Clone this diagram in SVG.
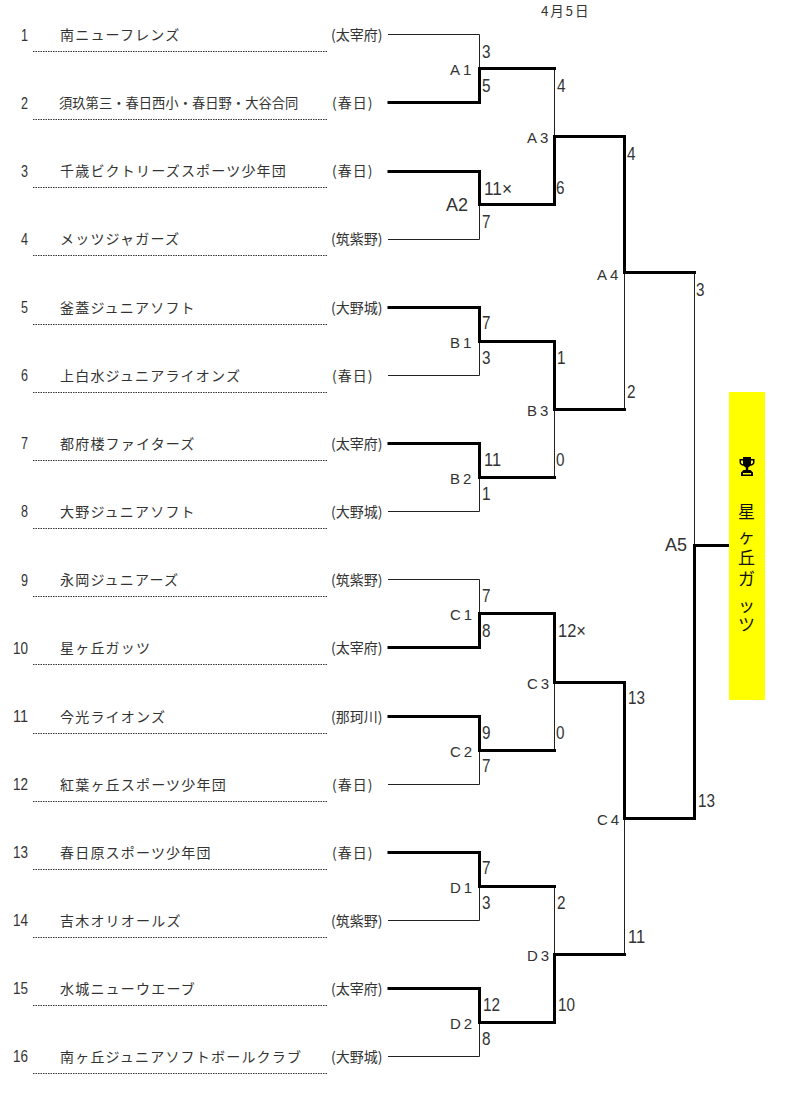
<svg xmlns="http://www.w3.org/2000/svg" width="800" height="1099" viewBox="0 0 800 1099">
<style>
text{font-family:"Noto Sans CJK JP","Liberation Sans",sans-serif;fill:#333}
.n{font-family:"Liberation Sans",sans-serif;font-size:17px;text-anchor:end}
.t{font-size:14px;letter-spacing:1.200px}
.r{font-size:14px}
.c{font-family:"Liberation Sans",sans-serif;font-size:15px;letter-spacing:3px}
.cb{font-family:"Liberation Sans",sans-serif;font-size:18px}
.s{font-family:"Liberation Sans",sans-serif;font-size:19px}
.u{stroke:#333;stroke-width:1;stroke-dasharray:1.5 1;fill:none}
.thin{stroke:#222;stroke-width:1;fill:none}
.thick{stroke:#000;stroke-width:3;fill:none;stroke-linecap:square}
</style>
<g id="date"><text x="541" y="16" font-size="13.500" style="letter-spacing:1.800px">4月5日</text></g>
<g id="team1"><text class="n" x="28" y="41" textLength="7" lengthAdjust="spacingAndGlyphs">1</text><text class="t" x="60" y="40">南ニューフレンズ</text><text class="r" x="331" y="40">(太宰府)</text><line class="u" x1="33" y1="51.500" x2="327" y2="51.500"/></g>
<g id="team2"><text class="n" x="28" y="109" textLength="7" lengthAdjust="spacingAndGlyphs">2</text><text class="t" x="59" y="108" style="font-size:13.300px;letter-spacing:0">須玖第三・春日西小・春日野・大谷合同</text><text class="r" x="332" y="108" style="letter-spacing:1px">(春日)</text><line class="u" x1="33" y1="119.500" x2="327" y2="119.500"/></g>
<g id="team3"><text class="n" x="28" y="177" textLength="7" lengthAdjust="spacingAndGlyphs">3</text><text class="t" x="60" y="176">千歳ビクトリーズスポーツ少年団</text><text class="r" x="332" y="176" style="letter-spacing:1px">(春日)</text><line class="u" x1="33" y1="187.500" x2="327" y2="187.500"/></g>
<g id="team4"><text class="n" x="28" y="245" textLength="7" lengthAdjust="spacingAndGlyphs">4</text><text class="t" x="60" y="244">メッツジャガーズ</text><text class="r" x="331" y="244">(筑紫野)</text><line class="u" x1="33" y1="255.500" x2="327" y2="255.500"/></g>
<g id="team5"><text class="n" x="28" y="313" textLength="7" lengthAdjust="spacingAndGlyphs">5</text><text class="t" x="60" y="313">釜蓋ジュニアソフト</text><text class="r" x="331" y="313">(大野城)</text><line class="u" x1="33" y1="324.500" x2="327" y2="324.500"/></g>
<g id="team6"><text class="n" x="28" y="381" textLength="7" lengthAdjust="spacingAndGlyphs">6</text><text class="t" x="60" y="381">上白水ジュニアライオンズ</text><text class="r" x="332" y="381" style="letter-spacing:1px">(春日)</text><line class="u" x1="33" y1="392.500" x2="327" y2="392.500"/></g>
<g id="team7"><text class="n" x="28" y="449" textLength="7" lengthAdjust="spacingAndGlyphs">7</text><text class="t" x="60" y="449">都府楼ファイターズ</text><text class="r" x="331" y="449">(太宰府)</text><line class="u" x1="33" y1="460.500" x2="327" y2="460.500"/></g>
<g id="team8"><text class="n" x="28" y="517" textLength="7" lengthAdjust="spacingAndGlyphs">8</text><text class="t" x="60" y="517">大野ジュニアソフト</text><text class="r" x="331" y="517">(大野城)</text><line class="u" x1="33" y1="528.500" x2="327" y2="528.500"/></g>
<g id="team9"><text class="n" x="28" y="586" textLength="7" lengthAdjust="spacingAndGlyphs">9</text><text class="t" x="60" y="585">永岡ジュニアーズ</text><text class="r" x="331" y="585">(筑紫野)</text><line class="u" x1="33" y1="596.500" x2="327" y2="596.500"/></g>
<g id="team10"><text class="n" x="28" y="654" textLength="15" lengthAdjust="spacingAndGlyphs">10</text><text class="t" x="60" y="653">星ヶ丘ガッツ</text><text class="r" x="331" y="653">(太宰府)</text><line class="u" x1="33" y1="664.500" x2="327" y2="664.500"/></g>
<g id="team11"><text class="n" x="28" y="722" textLength="15" lengthAdjust="spacingAndGlyphs">11</text><text class="t" x="60" y="722">今光ライオンズ</text><text class="r" x="331" y="722">(那珂川)</text><line class="u" x1="33" y1="733.500" x2="327" y2="733.500"/></g>
<g id="team12"><text class="n" x="28" y="790" textLength="15" lengthAdjust="spacingAndGlyphs">12</text><text class="t" x="60" y="790">紅葉ヶ丘スポーツ少年団</text><text class="r" x="332" y="790" style="letter-spacing:1px">(春日)</text><line class="u" x1="33" y1="801.500" x2="327" y2="801.500"/></g>
<g id="team13"><text class="n" x="28" y="858" textLength="15" lengthAdjust="spacingAndGlyphs">13</text><text class="t" x="60" y="858">春日原スポーツ少年団</text><text class="r" x="332" y="858" style="letter-spacing:1px">(春日)</text><line class="u" x1="33" y1="869.500" x2="327" y2="869.500"/></g>
<g id="team14"><text class="n" x="28" y="926" textLength="15" lengthAdjust="spacingAndGlyphs">14</text><text class="t" x="60" y="926">吉木オリオールズ</text><text class="r" x="331" y="926">(筑紫野)</text><line class="u" x1="33" y1="937.500" x2="327" y2="937.500"/></g>
<g id="team15"><text class="n" x="28" y="994" textLength="15" lengthAdjust="spacingAndGlyphs">15</text><text class="t" x="60" y="994">水城ニューウエーブ</text><text class="r" x="331" y="994">(太宰府)</text><line class="u" x1="33" y1="1005.500" x2="327" y2="1005.500"/></g>
<g id="team16"><text class="n" x="28" y="1062" textLength="15" lengthAdjust="spacingAndGlyphs">16</text><text class="t" x="60" y="1062">南ヶ丘ジュニアソフトボールクラブ</text><text class="r" x="331" y="1062">(大野城)</text><line class="u" x1="33" y1="1073.500" x2="327" y2="1073.500"/></g>
<g id="connectors">
<path class="thin" d="M388 34.500H479.500V68.500M388 239.500H479.500V204.500M388 375.500H479.500V341.500M388 511.500H479.500V477.500M388 579.500H479.500V613.500M388 784.500H479.500V750.500M388 920.500H479.500V886.500M388 1056.500H479.500V1022.500"/>
<path class="thin" d="M554.500 68.500V136.500M554.500 409.500V477.500M554.500 682.500V749.500M554.500 886.500V954.500M624.500 272.500V409.500M624.500 818.500V954.500M694.500 272.500V545.500"/>
<path class="thick" d="M389 102.500H479.500V68.500H554.500M389 171.500H479.500V204.500H554.500V136.500H624.500V272.500H694.500M389 307.500H479.500V341.500H554.500V409.500H624.500M389 443.500H479.500V477.500H554.500"/>
<path class="thick" d="M389 647.500H479.500V613.500H554.500V682.500H624.500V818.500H694.500V545.500H728M389 716.500H479.500V750.500H554.500M389 852.500H479.500V886.500H554.500M389 988.500H479.500V1022.500H554.500V954.500H624.500"/>
</g>
<g id="match-labels">
<text class="c" x="450" y="75">A1</text><text class="cb" x="446" y="211">A2</text><text class="c" x="527" y="143">A3</text><text class="c" x="597" y="280">A4</text><text class="cb" x="665" y="551">A5</text>
<text class="c" x="450" y="348">B1</text><text class="c" x="450" y="484">B2</text><text class="c" x="527" y="416">B3</text>
<text class="c" x="450" y="620">C1</text><text class="c" x="450" y="757">C2</text><text class="c" x="527" y="689">C3</text><text class="c" x="597" y="825">C4</text>
<text class="c" x="450" y="893">D1</text><text class="c" x="450" y="1029">D2</text><text class="c" x="527" y="961">D3</text>
</g>
<g id="scores">
<text class="s" x="482" y="58" textLength="8.500" lengthAdjust="spacingAndGlyphs">3</text><text class="s" x="482" y="92" textLength="8.500" lengthAdjust="spacingAndGlyphs">5</text><text class="s" x="484" y="195" textLength="28" lengthAdjust="spacingAndGlyphs">11×</text><text class="s" x="482" y="228" textLength="8.500" lengthAdjust="spacingAndGlyphs">7</text>
<text class="s" x="557" y="92" textLength="8.500" lengthAdjust="spacingAndGlyphs">4</text><text class="s" x="556" y="194" textLength="8.500" lengthAdjust="spacingAndGlyphs">6</text><text class="s" x="627" y="160" textLength="8.500" lengthAdjust="spacingAndGlyphs">4</text><text class="s" x="696" y="296" textLength="8.500" lengthAdjust="spacingAndGlyphs">3</text>
<text class="s" x="482" y="329" textLength="8.500" lengthAdjust="spacingAndGlyphs">7</text><text class="s" x="482" y="364" textLength="8.500" lengthAdjust="spacingAndGlyphs">3</text><text class="s" x="484" y="466" textLength="17" lengthAdjust="spacingAndGlyphs">11</text><text class="s" x="482" y="500" textLength="8.500" lengthAdjust="spacingAndGlyphs">1</text>
<text class="s" x="557" y="364" textLength="8.500" lengthAdjust="spacingAndGlyphs">1</text><text class="s" x="556" y="466" textLength="8.500" lengthAdjust="spacingAndGlyphs">0</text><text class="s" x="627" y="398" textLength="8.500" lengthAdjust="spacingAndGlyphs">2</text>
<text class="s" x="482" y="602" textLength="8.500" lengthAdjust="spacingAndGlyphs">7</text><text class="s" x="482" y="637" textLength="8.500" lengthAdjust="spacingAndGlyphs">8</text><text class="s" x="482" y="739" textLength="8.500" lengthAdjust="spacingAndGlyphs">9</text><text class="s" x="482" y="772" textLength="8.500" lengthAdjust="spacingAndGlyphs">7</text>
<text class="s" x="558" y="637" textLength="28" lengthAdjust="spacingAndGlyphs">12×</text><text class="s" x="556" y="739" textLength="8.500" lengthAdjust="spacingAndGlyphs">0</text><text class="s" x="628" y="704" textLength="17" lengthAdjust="spacingAndGlyphs">13</text><text class="s" x="698" y="807" textLength="17" lengthAdjust="spacingAndGlyphs">13</text>
<text class="s" x="482" y="874" textLength="8.500" lengthAdjust="spacingAndGlyphs">7</text><text class="s" x="482" y="909" textLength="8.500" lengthAdjust="spacingAndGlyphs">3</text><text class="s" x="483" y="1011" textLength="17" lengthAdjust="spacingAndGlyphs">12</text><text class="s" x="482" y="1045" textLength="8.500" lengthAdjust="spacingAndGlyphs">8</text>
<text class="s" x="557" y="909" textLength="8.500" lengthAdjust="spacingAndGlyphs">2</text><text class="s" x="558" y="1011" textLength="17" lengthAdjust="spacingAndGlyphs">10</text><text class="s" x="628" y="943" textLength="17" lengthAdjust="spacingAndGlyphs">11</text>
</g>
<g id="champion">
<rect x="729" y="392" width="36" height="308" fill="#ffff00"/>
<path fill="#000" fill-rule="evenodd" d="M743 457H751V459H754.500V462.500C754.500 464.500 752.500 465.500 750.500 465.800L748.200 467.500V470H750.500L753 472.500V476H741V472.500L743.500 470H745.800V467.500L743.500 465.800C741.500 465.500 739.500 464.500 739.500 462.500V459H743ZM741 460.500V462.500C741 463.300 742 464 743 464.300V460.500ZM751 460.500V464.300C752 464 753 463.300 753 462.500V460.500Z"/>
<rect x="743" y="473" width="8" height="1.500" fill="#ffff00"/>
<text x="746.500 746.500 746.500 746.500 746.500 746.500" y="518 543 564 585 612 631" font-size="17" text-anchor="middle" style="fill:#111">星ヶ丘ガッツ</text>
</g>
</svg>
